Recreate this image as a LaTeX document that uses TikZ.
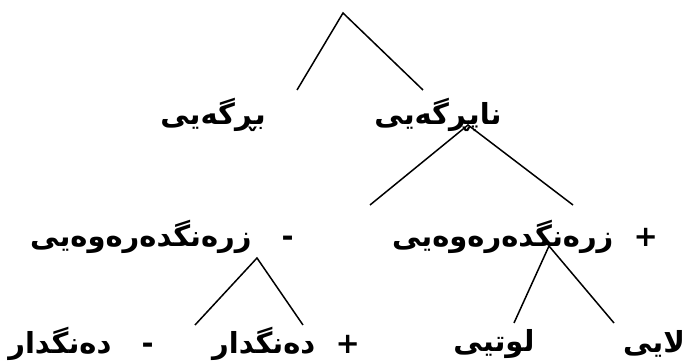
\documentclass[tikz,border=0pt]{standalone}
\usepackage{fontspec}
\usepackage{tikz}
\newfontfamily\arabicfont[Script=Arabic]{DejaVu Sans}
\TeXXeTstate=1

\tikzset{word/.style={font=\arabicfont\bfseries\fontsize{29}{34}\selectfont,inner sep=0pt}}

\begin{document}
\begin{tikzpicture}[x=1pt,y=-1pt]
\useasboundingbox (0,0) rectangle (689,363);
\begin{scope}[line width=1.5pt]
% first split
\coordinate (t0) at (343,13);
\coordinate (e0a) at (297,90);
\coordinate (e0b) at (423,90);
\draw (e0a) -- (t0) -- (e0b);
\node[word] (brg) at (213,115) {\beginR بڕگەیی\endR};
\node[word] (nap) at (438,115) {\beginR ناپڕگەیی\endR};
% second split
\coordinate (t1) at (468,125);
\coordinate (e1a) at (370,205);
\coordinate (e1b) at (573,205);
\draw (e1a) -- (t1) -- (e1b);
\node[word] (zm) at (162,237) {\beginR -\hspace{10pt}~~زرەنگدەرەوەیی\endR};
\node[word] (zp) at (525,237) {\beginR +~~زرەنگدەرەوەیی\endR};
% lower splits
\coordinate (t2) at (257,258);
\coordinate (e2a) at (195,325);
\coordinate (e2b) at (303,325);
\draw (e2a) -- (t2) -- (e2b);
\coordinate (t3) at (549,246);
\coordinate (e3a) at (514,323);
\coordinate (e3b) at (614,323);
\draw (e3a) -- (t3) -- (e3b);
\node[word] (dm) at (81,344) {\beginR -\hspace{10pt}~~دەنگدار\endR};
\node[word] (dp) at (286,344) {\beginR +~~دەنگدار\endR};
\node[word] (lut) at (494,344) {\beginR لوتیی\endR};
\node[word] (lay) at (654,344) {\beginR لایی\endR};
\end{scope}
\end{tikzpicture}
\end{document}
